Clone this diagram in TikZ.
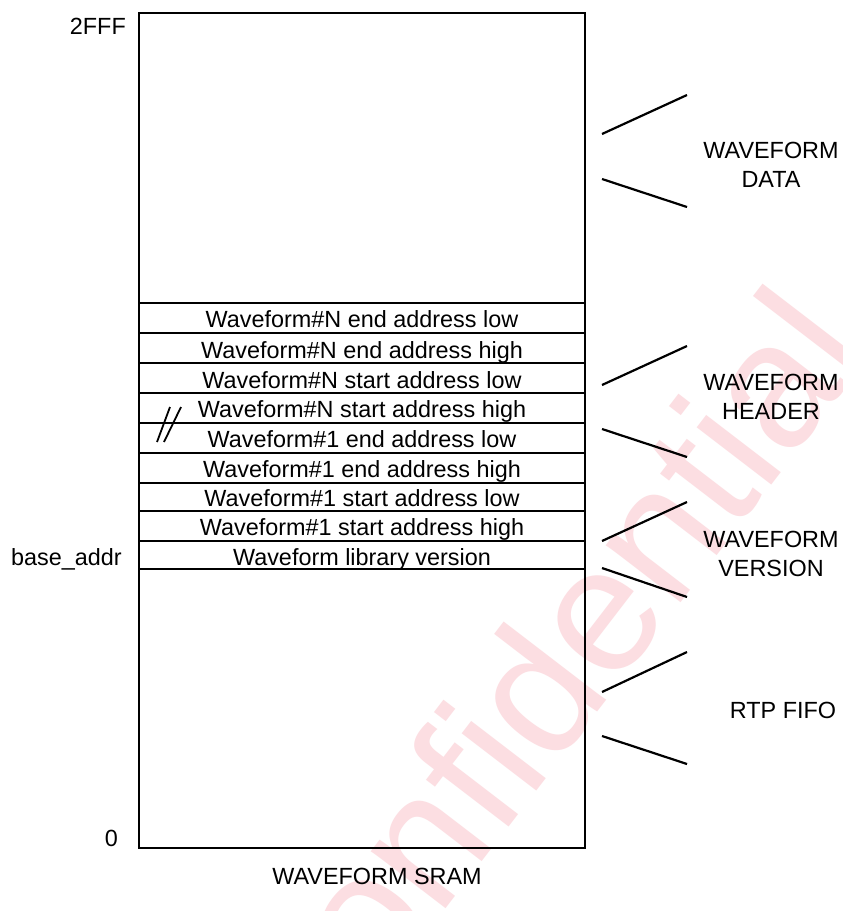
\documentclass[tikz,border=0pt]{standalone}
\usepackage{fontspec}
\setmainfont{Liberation Sans}
\definecolor{wmark}{RGB}{252,222,226}
\begin{document}
\begin{tikzpicture}[x=1pt,y=-1pt,
  box/.style={draw=black,line width=2.5pt},
  sep/.style={draw=black,line width=2.5pt},
  tick/.style={draw=black,line width=2.2pt},
  lbl/.style={font=\fontsize{23.4}{29.5}\selectfont,inner sep=0pt,anchor=base},
  rlbl/.style={font=\fontsize{23.4}{29.5}\selectfont,inner sep=0pt,align=center},
]
\useasboundingbox (0,0) rectangle (843,911);
\fill[white] (0,0) rectangle (843,911);
% watermark
\node[wmark,font=\fontsize{178}{178}\selectfont,rotate=52.5,inner sep=0pt] (wm) at (536,687) {Confidential};
% main box
\draw[box] (139,13) rectangle (585,848);
\foreach \yy in {303,333,363,393,423,453,483,511,541,569}
  \draw[sep] (139,\yy) -- (585,\yy);
% row texts
\node[lbl] (r1) at (362,327) {Waveform\#N end address low};
\node[lbl] (r2) at (362,358) {Waveform\#N end address high};
\node[lbl] (r3) at (362,388) {Waveform\#N start address low};
\node[lbl] (r4) at (362,417) {Waveform\#N start address high};
\node[lbl] (r5) at (362,447) {Waveform\#1 end address low};
\node[lbl] (r6) at (362,477) {Waveform\#1 end address high};
\node[lbl] (r7) at (362,506) {Waveform\#1 start address low};
\node[lbl] (r8) at (362,535) {Waveform\#1 start address high};
\node[lbl] (r9) at (362,565) {Waveform library version};
% break marks
\draw[line width=1.8pt] (157,442) -- (170,407);
\draw[line width=1.8pt] (164,442) -- (181,407);
% left labels
\node[lbl,anchor=base east] (a1) at (126,34) {2FFF};
\node[lbl,anchor=base east] (a2) at (122,565) {base\_addr};
\node[lbl,anchor=base east] (a3) at (118,846) {0};
\node[lbl] (title) at (377,884) {WAVEFORM SRAM};
% right labels
\node[rlbl] (ldata) at (771,165) {WAVEFORM\\DATA};
\node[rlbl] (lhead) at (771,397) {WAVEFORM\\HEADER};
\node[rlbl] (lver) at (771,554) {WAVEFORM\\VERSION};
\node[rlbl] (lfifo) at (783,710) {RTP FIFO};
% brackets
\coordinate (d1a) at (602,134); \coordinate (d1b) at (687,95);
\coordinate (d2a) at (602,179); \coordinate (d2b) at (687,207);
\coordinate (h1a) at (602,385); \coordinate (h1b) at (687,346);
\coordinate (h2a) at (602,429); \coordinate (h2b) at (687,457);
\coordinate (v1a) at (602,541); \coordinate (v1b) at (687,502);
\coordinate (v2a) at (602,568); \coordinate (v2b) at (687,597);
\coordinate (f1a) at (602,692); \coordinate (f1b) at (687,652);
\coordinate (f2a) at (602,736); \coordinate (f2b) at (687,764);
\foreach \p in {d1,d2,h1,h2,v1,v2,f1,f2}
  \draw[tick] (\p a) -- (\p b);
\end{tikzpicture}
\end{document}
